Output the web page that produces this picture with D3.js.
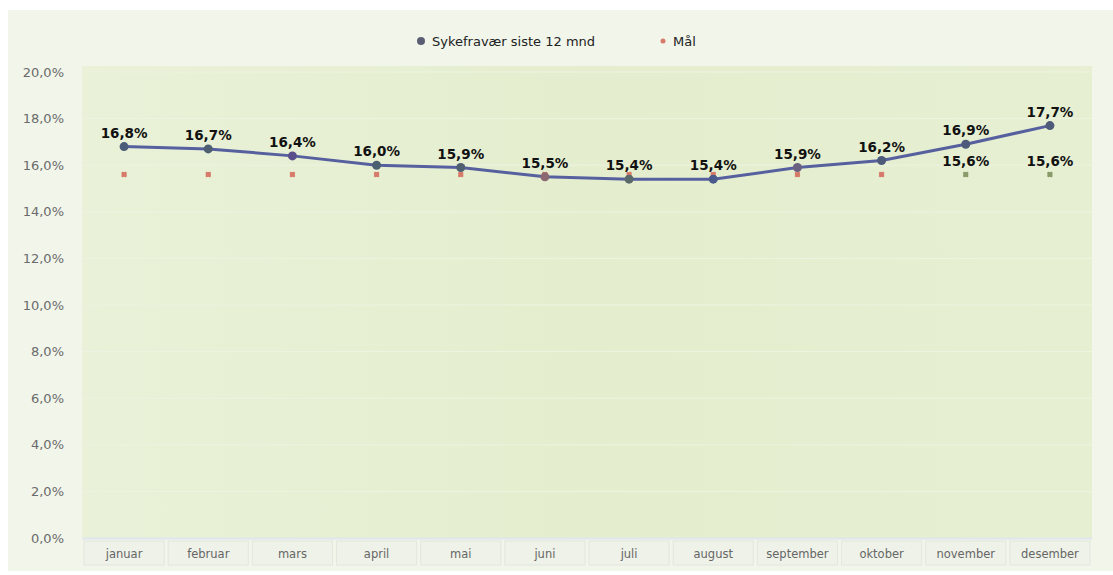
<!DOCTYPE html>
<html>
<head>
<meta charset="utf-8">
<script src="https://cdn.jsdelivr.net/npm/d3@7"></script>
<style>
  body { margin: 0; background: #fff; }
  svg { display: block; }
</style>
</head>
<body>
<div id="frame"></div>
<script>
// data
let months = ['januar', 'februar', 'mars', 'april', 'mai', 'juni', 'juli', 'august', 'september', 'oktober', 'november', 'desember'];
let sykefravaer = [16.8, 16.7, 16.4, 16.0, 15.9, 15.5, 15.4, 15.4, 15.9, 16.2, 16.9, 17.7];
let maal = [15.6, 15.6, 15.6, 15.6, 15.6, 15.6, 15.6, 15.6, 15.6, 15.6, 15.6, 15.6];
let maalLabelShown = [false, false, false, false, false, false, false, false, false, false, true, true];
let yTicks = [0, 2, 4, 6, 8, 10, 12, 14, 16, 18, 20];

let W = 1113, H = 575;
let margin = { top: 72, right: 21, bottom: 37, left: 82 };
let width = W - margin.left - margin.right,
    height = H - margin.top - margin.bottom;

let fmt = v => v.toFixed(1).replace('.', ',') + '%';

let svg = d3.select('#frame')
    .append('svg')
    .attr('width', W)
    .attr('height', H);

// outer panel
svg.append('rect')
    .attr('x', 8).attr('y', 10)
    .attr('width', W - 8).attr('height', H - 14)
    .attr('fill', '#f1f5ea');

let defs = svg.append('defs');
let grad = defs.append('linearGradient')
    .attr('id', 'plotbg')
    .attr('x1', 0).attr('y1', 0).attr('x2', 1).attr('y2', 0);
grad.append('stop').attr('offset', '0%').attr('stop-color', '#e9f1d8');
grad.append('stop').attr('offset', '50%').attr('stop-color', '#e4eece');
grad.append('stop').attr('offset', '100%').attr('stop-color', '#e6efd2');

let g = svg.append('g')
    .attr('transform', 'translate(' + margin.left + ',' + margin.top + ')');

let x = d3.scaleBand().domain(months).range([0, width]);
let y = d3.scaleLinear().domain([0, 20]).range([height, 0]);

// plot background
g.append('rect')
    .attr('x', 0).attr('y', -6)
    .attr('width', width).attr('height', height + 6)
    .attr('fill', 'url(#plotbg)');

// faint gridlines
g.selectAll('.grid')
    .data(yTicks.slice(1))
    .enter()
    .append('line')
    .attr('x1', 0).attr('x2', width)
    .attr('y1', d => y(d)).attr('y2', d => y(d))
    .attr('stroke', '#edf3e0')
    .attr('stroke-width', 1);

// baseline
g.append('line')
    .attr('x1', 0).attr('x2', width)
    .attr('y1', height + 0.5).attr('y2', height + 0.5)
    .attr('stroke', '#dfe6ee')
    .attr('stroke-width', 2);

// y axis labels
let yAxis = g.append('g')
    .call(d3.axisLeft(y).tickValues(yTicks).tickFormat(fmt).tickSize(0).tickPadding(18));
yAxis.select('.domain').remove();
yAxis.selectAll('text')
    .attr('fill', '#6b6b6b')
    .style('font-family', 'Tahoma, "DejaVu Sans", sans-serif')
    .style('font-size', '13px');

// x category tabs
let tabs = g.append('g').attr('transform', 'translate(0,' + (height + 3) + ')');
tabs.selectAll('rect')
    .data(months)
    .enter()
    .append('rect')
    .attr('x', d => x(d) + 2)
    .attr('y', 0)
    .attr('width', x.bandwidth() - 4)
    .attr('height', 24)
    .attr('fill', '#eef2e8')
    .attr('stroke', '#e2e7e0');
tabs.selectAll('text')
    .data(months)
    .enter()
    .append('text')
    .attr('x', d => x(d) + x.bandwidth() / 2)
    .attr('y', 17)
    .attr('text-anchor', 'middle')
    .attr('fill', '#666')
    .style('font-family', 'Tahoma, "DejaVu Sans", sans-serif')
    .style('font-size', '11.5px')
    .text(d => d);

let cx = d => x(d) + x.bandwidth() / 2;

// Mål markers
let maalColor = (d, i) => maalLabelShown[i] ? '#8a9a6a' : '#d77a6a';
g.selectAll('.maal')
    .data(maal)
    .enter()
    .append('path')
    .attr('d', d3.symbol().type(d3.symbolCross).size(22))
    .attr('transform', (d, i) => 'translate(' + cx(months[i]) + ',' + y(d) + ') rotate(45)')
    .attr('fill', maalColor);
g.selectAll('.maalc')
    .data(maal)
    .enter()
    .append('circle')
    .attr('cx', (d, i) => cx(months[i]))
    .attr('cy', d => y(d))
    .attr('r', 2.5)
    .attr('fill', maalColor);

// line
let line = d3.line()
    .x((d, i) => cx(months[i]))
    .y(d => y(d));
g.append('path')
    .datum(sykefravaer)
    .attr('d', line)
    .attr('fill', 'none')
    .attr('stroke', '#57609e')
    .attr('stroke-width', 3);

let dotColors = ['#4a5c7a', '#4e5f72', '#5a4f8a', '#4a6070', '#4e5f72', '#8a6a70', '#5a6a6a', '#4a5a8a', '#6a6080', '#4e5a7a', '#4e5a7a', '#4e5a7a'];
g.selectAll('.dot')
    .data(sykefravaer)
    .enter()
    .append('circle')
    .attr('cx', (d, i) => cx(months[i]))
    .attr('cy', d => y(d))
    .attr('r', 4.5)
    .attr('fill', (d, i) => dotColors[i]);

// value labels
let labelFont = 'Verdana, "DejaVu Sans", sans-serif';
g.selectAll('.lbl')
    .data(sykefravaer)
    .enter()
    .append('text')
    .attr('x', (d, i) => cx(months[i]))
    .attr('y', d => y(d) - 9)
    .attr('text-anchor', 'middle')
    .attr('fill', '#111')
    .style('font-family', labelFont)
    .style('font-weight', 'bold')
    .style('font-size', '13.5px')
    .text(fmt);

g.selectAll('.mlbl')
    .data(maal.map((v, i) => ({ v: v, i: i })).filter(d => maalLabelShown[d.i]))
    .enter()
    .append('text')
    .attr('x', d => cx(months[d.i]))
    .attr('y', d => y(d.v) - 9)
    .attr('text-anchor', 'middle')
    .attr('fill', '#111')
    .style('font-family', labelFont)
    .style('font-weight', 'bold')
    .style('font-size', '13.5px')
    .text(d => fmt(d.v));

// legend
let legend = svg.append('g').attr('transform', 'translate(0,41)');
legend.append('circle').attr('cx', 421).attr('cy', 0).attr('r', 4).attr('fill', '#5a5e72');
legend.append('text').attr('x', 432).attr('y', 5)
    .attr('fill', '#222')
    .style('font-family', 'Tahoma, "DejaVu Sans", sans-serif')
    .style('font-size', '13px')
    .text('Sykefravær siste 12 mnd');
legend.append('circle').attr('cx', 663).attr('cy', 0).attr('r', 2.5).attr('fill', '#d77a6a');
legend.append('text').attr('x', 673).attr('y', 5)
    .attr('fill', '#222')
    .style('font-family', 'Tahoma, "DejaVu Sans", sans-serif')
    .style('font-size', '13px')
    .text('Mål');
</script>
</body>
</html>
